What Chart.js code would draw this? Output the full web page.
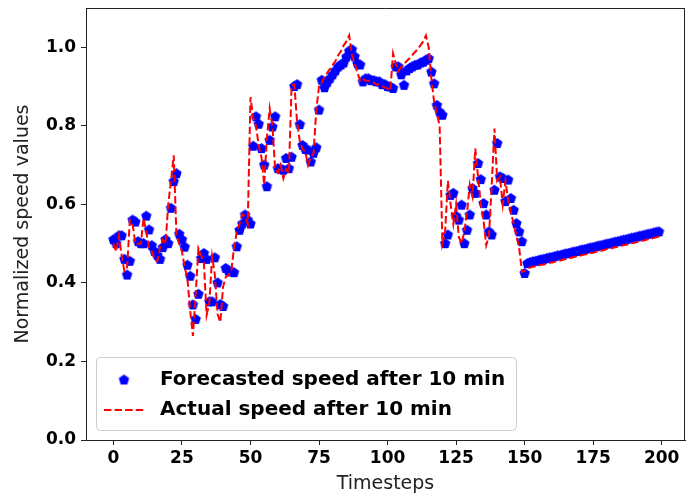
<!DOCTYPE html>
<html>
<head>
<meta charset="utf-8">
<script src="https://cdn.jsdelivr.net/npm/chart.js@4.4.1/dist/chart.umd.min.js"></script>
<style>
  html, body { margin: 0; padding: 0; background: #ffffff; }
  #wrap { width: 686px; height: 497px; position: relative; }
</style>
</head>
<body>
<div id="wrap"><canvas id="c" width="686" height="497"></canvas></div>
<script>
// ---- data ----
const seriesNames = ["Forecasted speed after 10 min", "Actual speed after 10 min"];
const xTickValues = [0, 25, 50, 75, 100, 125, 150, 175, 200];
const yTickValues = [0.0, 0.2, 0.4, 0.6, 0.8, 1.0];

const forecasted = [
  0.51,0.50,0.52,0.52,0.46,0.42,0.455,0.56,0.555,0.505,
  0.50,0.50,0.57,0.535,0.495,0.48,0.47,0.46,0.49,0.51,
  0.50,0.59,0.658,0.678,0.524,0.51,0.491,0.445,0.417,0.344,
  0.307,0.371,0.462,0.475,0.46,0.352,0.352,0.464,0.40,0.345,
  0.34,0.437,0.43,0.428,0.426,0.492,0.534,0.55,0.573,0.56,
  0.55,0.748,0.823,0.804,0.742,0.70,0.645,0.763,0.797,0.823,
  0.691,0.69,0.687,0.717,0.691,0.72,0.90,0.905,0.803,0.75,
  0.74,0.738,0.708,0.73,0.744,0.84,0.916,0.897,0.91,0.92,
  0.93,0.94,0.95,0.955,0.96,0.975,0.99,0.994,0.976,0.958,
  0.955,0.912,0.92,0.92,0.915,0.915,0.912,0.912,0.905,0.905,
  0.90,0.899,0.895,0.95,0.95,0.93,0.903,0.94,0.946,0.95,
  0.954,0.955,0.96,0.962,0.967,0.971,0.937,0.907,0.852,0.835,
  0.827,0.50,0.522,0.623,0.628,0.57,0.56,0.598,0.50,0.534,
  0.573,0.64,0.628,0.704,0.663,0.602,0.573,0.53,0.522,0.636,
  0.755,0.67,0.666,0.607,0.662,0.615,0.585,0.551,0.53,0.505,
  0.424,0.449,0.452,0.454,0.455,0.457,0.459,0.460,0.462,0.464,
  0.465,0.467,0.469,0.470,0.472,0.474,0.475,0.477,0.479,0.480,
  0.482,0.484,0.485,0.487,0.489,0.490,0.492,0.494,0.495,0.497,
  0.499,0.500,0.502,0.504,0.505,0.507,0.509,0.510,0.512,0.514,
  0.515,0.517,0.519,0.520,0.522,0.524,0.525,0.527,0.529,0.530
];

const actual = [
  0.50,0.48,0.52,0.47,0.43,0.44,0.56,0.55,0.50,0.50,
  0.50,0.565,0.53,0.49,0.48,0.46,0.455,0.49,0.51,0.50,
  0.60,0.66,0.725,0.52,0.50,0.48,0.44,0.41,0.33,0.265,
  0.37,0.488,0.47,0.45,0.318,0.35,0.467,0.42,0.32,0.30,
  0.39,0.415,0.42,0.43,0.49,0.53,0.55,0.575,0.57,0.55,
  0.873,0.82,0.80,0.75,0.72,0.65,0.77,0.844,0.80,0.69,
  0.68,0.70,0.666,0.69,0.68,0.903,0.905,0.81,0.76,0.74,
  0.735,0.70,0.72,0.73,0.84,0.90,0.91,0.925,0.935,0.945,
  0.955,0.965,0.98,0.99,1.005,1.015,1.03,0.98,0.96,0.935,
  0.915,0.92,0.915,0.915,0.912,0.91,0.905,0.905,0.90,0.898,
  0.895,0.89,0.984,0.958,0.94,0.95,0.957,0.965,0.972,0.98,
  0.988,0.995,1.005,1.015,1.03,1.00,0.92,0.86,0.83,0.80,
  0.50,0.53,0.66,0.60,0.55,0.60,0.517,0.50,0.53,0.58,
  0.65,0.62,0.742,0.67,0.60,0.56,0.496,0.52,0.65,0.793,
  0.66,0.67,0.60,0.66,0.61,0.58,0.55,0.52,0.49,0.428,
  0.43,0.437,0.439,0.441,0.442,0.444,0.446,0.447,0.449,0.451,
  0.452,0.454,0.456,0.457,0.459,0.461,0.462,0.464,0.466,0.467,
  0.469,0.471,0.472,0.474,0.476,0.477,0.479,0.481,0.482,0.484,
  0.486,0.487,0.489,0.491,0.492,0.494,0.496,0.497,0.499,0.501,
  0.502,0.504,0.506,0.507,0.509,0.511,0.512,0.514,0.516,0.518
];

const timesteps = forecasted.map((_, i) => i);

// ---- helpers ----
function pentagon(r, color) {
  const s = Math.ceil(2 * r + 2);
  const c = document.createElement('canvas');
  c.width = s; c.height = s;
  const g = c.getContext('2d');
  g.fillStyle = color;
  g.beginPath();
  for (let i = 0; i < 5; i++) {
    const a = -Math.PI / 2 + i * 2 * Math.PI / 5;
    const px = s / 2 + r * Math.cos(a), py = s / 2 + r * Math.sin(a);
    if (i) g.lineTo(px, py); else g.moveTo(px, py);
  }
  g.closePath();
  g.fill();
  return c;
}
const penta = pentagon(5.5, '#0000ff');

const TICK_FONT = { family: 'DejaVu Sans', size: 17, weight: 'bold' };
const TITLE_FONT = { family: 'DejaVu Sans', size: 19, weight: 'normal', lineHeight: 1.2 };

const framePlugin = {
  id: 'frame',
  afterDraw(chart) {
    const ctx = chart.ctx, a = chart.chartArea;
    ctx.save();
    ctx.strokeStyle = '#222';
    ctx.lineWidth = 1;
    ctx.beginPath();
    ctx.moveTo(a.left, a.top + 0.5); ctx.lineTo(a.right, a.top + 0.5);
    ctx.moveTo(a.right - 0.5, a.top); ctx.lineTo(a.right - 0.5, a.bottom);
    ctx.stroke();

    // legend
    const bx = a.left + 10, by = 357, bw = 420, bh = a.bottom - 10 - 357;
    ctx.beginPath();
    ctx.roundRect(bx + 0.5, by + 0.5, bw, bh, 4);
    ctx.fillStyle = 'rgba(255,255,255,0.8)';
    ctx.fill();
    ctx.strokeStyle = '#cccccc';
    ctx.stroke();

    const hx0 = bx + 8, hx1 = bx + 48, tx = bx + 64;
    const r1 = by + 23, r2 = by + 53;
    ctx.drawImage(penta, (hx0 + hx1) / 2 - penta.width / 2, r1 - penta.height / 2);
    ctx.beginPath();
    ctx.setLineDash([7.4, 3.2]);
    ctx.strokeStyle = '#ff0000';
    ctx.lineWidth = 2;
    ctx.moveTo(hx0, r2); ctx.lineTo(hx1, r2);
    ctx.stroke();
    ctx.setLineDash([]);
    ctx.fillStyle = '#000';
    ctx.font = 'bold 20px "DejaVu Sans"';
    ctx.textBaseline = 'middle';
    ctx.textAlign = 'left';
    ctx.fillText(seriesNames[0], tx, r1);
    ctx.fillText(seriesNames[1], tx, r2);
    ctx.restore();
  }
};

new Chart(document.getElementById('c'), {
  type: 'line',
  data: {
    datasets: [
      {
        label: seriesNames[1],
        data: timesteps.map((t, i) => ({ x: t, y: actual[i] })),
        borderColor: '#ff0000',
        borderWidth: 2,
        borderDash: [7.4, 3.2],
        pointRadius: 0,
        fill: false,
        tension: 0
      },
      {
        label: seriesNames[0],
        data: timesteps.map((t, i) => ({ x: t, y: forecasted[i] })),
        showLine: false,
        pointStyle: penta,
        pointRadius: 5,
        borderColor: '#0000ff',
        backgroundColor: '#0000ff'
      }
    ]
  },
  options: {
    responsive: false,
    animation: false,
    events: [],
    layout: { autoPadding: false, padding: { top: 8, right: 1, left: 0, bottom: 0 } },
    plugins: { legend: { display: false }, tooltip: { enabled: false } },
    scales: {
      x: {
        type: 'linear',
        min: -10, max: 208.5,
        afterFit(s) { s.height = 57; s.paddingLeft = 0; s.paddingRight = 0; },
        afterBuildTicks(s) { s.ticks = xTickValues.map(v => ({ value: v })); },
        grid: { display: true, drawOnChartArea: false, drawTicks: true, tickLength: 5, color: '#222' },
        border: { display: true, color: '#222', width: 1 },
        ticks: { font: TICK_FONT, color: '#000', padding: 3, maxRotation: 0, callback: v => String(v) },
        title: { display: true, text: 'Timesteps', font: TITLE_FONT, color: '#222', padding: { top: 0, bottom: 2 } }
      },
      y: {
        type: 'linear',
        min: 0, max: 1.1,
        afterFit(s) { s.width = 86; s.paddingTop = 0; s.paddingBottom = 0; },
        afterBuildTicks(s) { s.ticks = yTickValues.map(v => ({ value: v })); },
        grid: { display: true, drawOnChartArea: false, drawTicks: true, tickLength: 5, color: '#222' },
        border: { display: true, color: '#222', width: 1 },
        ticks: { font: TICK_FONT, color: '#000', padding: 5, callback: v => Number(v).toFixed(1) },
        title: { display: true, text: 'Normalized speed values', font: TITLE_FONT, color: '#222', padding: { top: 12, bottom: 0 } }
      }
    }
  },
  plugins: [framePlugin]
});
</script>
</body>
</html>
